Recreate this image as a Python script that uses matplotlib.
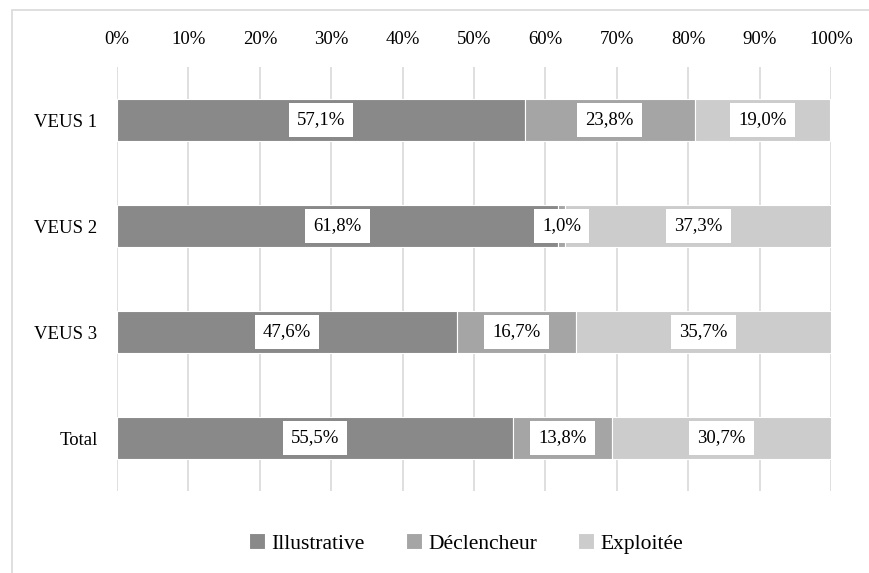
import numpy as np
import matplotlib.pyplot as plt
from matplotlib.patches import Rectangle
from matplotlib.ticker import PercentFormatter

plt.rcParams['font.family'] = ['Liberation Serif', 'DejaVu Serif']

categories = ['VEUS 1', 'VEUS 2', 'VEUS 3', 'Total']
series = ['Illustrative', 'Déclencheur', 'Exploitée']
illustrative = [57.1, 61.8, 47.6, 55.5]
declencheur = [23.8, 1.0, 16.7, 13.8]
exploitee = [19.0, 37.3, 35.7, 30.7]

colors = ['#898989', '#a5a5a5', '#cccccc']

fig = plt.figure(figsize=(8.7, 5.73), dpi=100)
ax = fig.add_axes([0.1345, 0.143, 0.8207, 0.74])

# outer chart border
fig.patches.append(Rectangle((12 / 870, -0.05), 1.2, 1 - 10 / 573 + 0.05,
                             transform=fig.transFigure, fill=False,
                             edgecolor='#d9d9d9', linewidth=1.2))

y = np.arange(len(categories))
left = np.zeros(len(categories))
for name, vals, c in zip(series, [illustrative, declencheur, exploitee], colors):
    vals = np.array(vals)
    ax.barh(y, vals, left=left, height=0.4, color=c, edgecolor='white',
            linewidth=0.8, label=name, zorder=2)
    for yi, l, v in zip(y, left, vals):
        ax.text(l + v / 2, yi, f'{v:.1f}%'.replace('.', ','), ha='center',
                va='center', fontsize=13.5, zorder=3,
                bbox=dict(facecolor='white', edgecolor='none', pad=5.8))
    left = left + vals

ax.set_xlim(0, 100)
ax.set_ylim(3.5, -0.5)
ax.set_xticks(np.arange(0, 101, 10))
ax.xaxis.set_major_formatter(PercentFormatter(decimals=0))
ax.xaxis.tick_top()
ax.set_yticks(y)
ax.set_yticklabels(categories)
ax.tick_params(length=0, labelsize=13.5)
ax.tick_params(axis='x', pad=14)
ax.tick_params(axis='y', pad=14)
ax.grid(axis='x', color='#d9d9d9', linewidth=1.2, zorder=0)
ax.set_axisbelow(True)
for s in ax.spines.values():
    s.set_visible(False)

fig.legend(loc='lower center', bbox_to_anchor=(0.536, 0.0), ncol=3, frameon=False,
           fontsize=15.5, handlelength=0.75, handleheight=0.75, handletextpad=0.3,
           columnspacing=1.9)

fig.savefig('out.png', dpi=100)
